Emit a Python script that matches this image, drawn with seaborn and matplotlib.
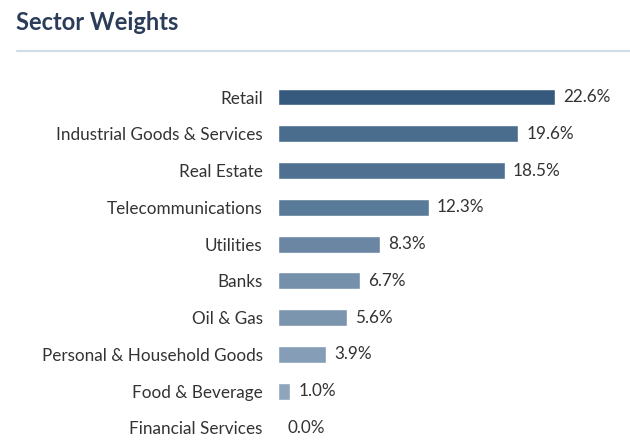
import matplotlib
matplotlib.use("Agg")
import matplotlib.pyplot as plt
import seaborn as sns
import pandas as pd
from matplotlib.lines import Line2D

categories = ["Retail", "Industrial Goods & Services", "Real Estate", "Telecommunications",
              "Utilities", "Banks", "Oil & Gas", "Personal & Household Goods",
              "Food & Beverage", "Financial Services"]
weights = [22.6, 19.6, 18.5, 12.3, 8.3, 6.7, 5.6, 3.9, 1.0, 0.0]
value_labels = ["22.6%", "19.6%", "18.5%", "12.3%", "8.3%", "6.7%", "5.6%", "3.9%", "1.0%", "0.0%"]
bar_colors = ["#365a7e", "#4a6d8e", "#4f7091", "#5a7a99", "#6a86a3",
              "#7590ab", "#7b95af", "#859db6", "#8fa5bc", "#98adc2"]

sns.set_theme(style="white")
plt.rcParams['font.family'] = ['Lato', 'DejaVu Sans']

df = pd.DataFrame({"sector": categories, "weight": weights})

W, H = 630, 445
fig = plt.figure(figsize=(W / 100, H / 100), dpi=100)
fig.patch.set_facecolor("white")

left_px, right_px = 278, 630
top_px, bot_px = 60, 445
ax = fig.add_axes([left_px / W, 1 - bot_px / H, (right_px - left_px) / W, (bot_px - top_px) / H])

sns.barplot(data=df, y="sector", x="weight", hue="sector", palette=bar_colors,
            legend=False, ax=ax, width=0.46, saturation=1, orient="h")

px_per_unit = (555 - 278) / 22.6
ax.set_xlim(0, (right_px - left_px) / px_per_unit)
spacing = (428 - 97) / 9
ax.set_ylim((bot_px - 97) / spacing, (top_px - 97) / spacing)

for s in ax.spines.values():
    s.set_visible(False)
ax.set_xticks([])
ax.set_xlabel("")
ax.set_ylabel("")
ax.tick_params(axis="y", length=0, pad=11, labelsize=12.3, labelcolor="#333333")

for i, (v, lab) in enumerate(zip(weights, value_labels)):
    ax.annotate(lab, xy=(v, i), xytext=(6 if v > 0 else 7, 0), textcoords="offset points",
                va="center", ha="left", fontsize=12.3, color="#333333")

fig.text(16 / W, 1 - 22 / H, "Sector Weights", fontsize=17, fontweight="bold",
         color="#2b3d5a", va="center", ha="left")
fig.add_artist(Line2D([17 / W, 1.0], [1 - 51 / H, 1 - 51 / H], transform=fig.transFigure,
                      color="#d3dde8", linewidth=1.6))

fig.savefig("out.png", dpi=100, facecolor="white")
